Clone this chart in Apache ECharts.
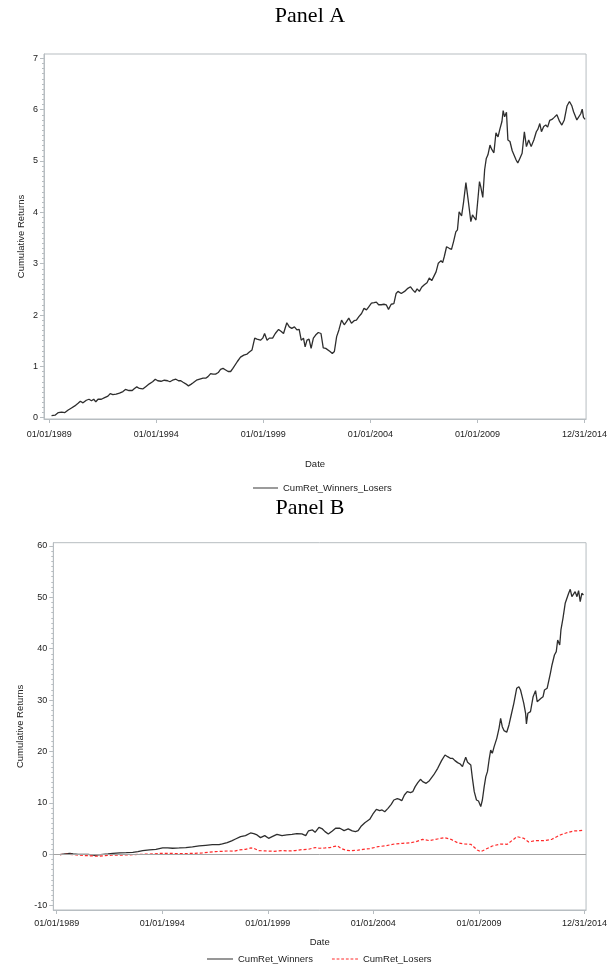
<!DOCTYPE html>
<html><head><meta charset="utf-8">
<script src="https://cdn.jsdelivr.net/npm/echarts@6/dist/echarts.min.js"></script>
<style>html,body{margin:0;padding:0;background:#fff}#c{width:610px;height:969px}</style>
</head><body><div id="c"></div>
<script>
// ---- tick labels (evenly spaced along the date axis) ----
const xTickPos = [1989, 1994.2, 1999.4, 2004.6, 2009.8, 2015];
const xTickLabels = ['01/01/1989','01/01/1994','01/01/1999','01/01/2004','01/01/2009','12/31/2014'];
const yTicksA = [0,1,2,3,4,5,6,7];
const yTicksB = [-10,0,10,20,30,40,50,60];

// ---- Panel A: CumRet_Winners_Losers ----
const datesA = [1989.11,1989.28,1989.44,1989.60,1989.76,1989.92,1990.08,1990.24,1990.40,1990.51,1990.64,1990.80,1990.93,1991.05,1991.16,1991.26,1991.37,1991.53,1991.69,1991.85,1991.96,1992.09,1992.25,1992.41,1992.58,1992.70,1992.87,1993.03,1993.14,1993.25,1993.38,1993.54,1993.70,1993.86,1994.02,1994.15,1994.27,1994.43,1994.59,1994.75,1994.86,1994.99,1995.15,1995.28,1995.39,1995.50,1995.63,1995.76,1995.88,1995.99,1996.15,1996.31,1996.47,1996.60,1996.71,1996.84,1996.95,1997.08,1997.21,1997.32,1997.44,1997.57,1997.69,1997.81,1997.92,1998.13,1998.29,1998.45,1998.61,1998.72,1998.85,1998.98,1999.09,1999.26,1999.37,1999.46,1999.58,1999.69,1999.85,1999.98,2000.14,2000.27,2000.38,2000.54,2000.66,2000.78,2000.91,2001.03,2001.14,2001.24,2001.35,2001.43,2001.52,2001.62,2001.72,2001.83,2001.94,2002.07,2002.20,2002.31,2002.43,2002.52,2002.64,2002.75,2002.85,2002.96,2003.07,2003.20,2003.33,2003.44,2003.55,2003.68,2003.81,2003.92,2004.04,2004.17,2004.29,2004.41,2004.52,2004.65,2004.78,2004.89,2005.00,2005.13,2005.26,2005.37,2005.48,2005.61,2005.74,2005.85,2005.94,2006.10,2006.26,2006.42,2006.55,2006.66,2006.77,2006.87,2006.98,2007.09,2007.22,2007.35,2007.46,2007.58,2007.67,2007.79,2007.90,2008.03,2008.11,2008.19,2008.30,2008.43,2008.54,2008.64,2008.75,2008.83,2008.91,2009.03,2009.12,2009.24,2009.35,2009.48,2009.56,2009.64,2009.73,2009.83,2009.90,2009.96,2010.06,2010.15,2010.23,2010.31,2010.41,2010.49,2010.60,2010.70,2010.80,2010.89,2010.99,2011.05,2011.12,2011.21,2011.28,2011.38,2011.49,2011.57,2011.68,2011.76,2011.86,2011.97,2012.08,2012.18,2012.29,2012.41,2012.54,2012.66,2012.74,2012.83,2012.91,2013.02,2013.12,2013.21,2013.31,2013.42,2013.53,2013.66,2013.79,2013.90,2014.02,2014.15,2014.27,2014.39,2014.47,2014.55,2014.63,2014.72,2014.82,2014.89,2014.95,2015.03];
const cumRetWinnersLosers = [0.04,0.05,0.10,0.11,0.10,0.15,0.19,0.23,0.28,0.32,0.29,0.34,0.36,0.33,0.36,0.31,0.36,0.36,0.39,0.42,0.47,0.45,0.46,0.48,0.51,0.55,0.53,0.53,0.57,0.60,0.57,0.56,0.61,0.66,0.70,0.75,0.72,0.71,0.73,0.72,0.70,0.73,0.75,0.72,0.72,0.69,0.66,0.62,0.65,0.68,0.73,0.75,0.77,0.77,0.80,0.86,0.85,0.85,0.88,0.94,0.96,0.93,0.90,0.90,0.96,1.09,1.18,1.22,1.24,1.28,1.32,1.55,1.53,1.51,1.55,1.64,1.51,1.55,1.55,1.64,1.72,1.68,1.64,1.85,1.77,1.74,1.77,1.71,1.72,1.51,1.55,1.38,1.51,1.53,1.35,1.55,1.61,1.66,1.64,1.36,1.35,1.36,1.29,1.25,1.29,1.58,1.71,1.90,1.81,1.87,1.94,1.84,1.89,1.90,1.97,2.03,2.13,2.10,2.16,2.23,2.24,2.25,2.20,2.20,2.21,2.20,2.11,2.21,2.22,2.42,2.46,2.42,2.46,2.52,2.55,2.49,2.44,2.51,2.46,2.54,2.59,2.63,2.72,2.67,2.68,2.84,3.01,3.06,3.02,3.14,3.33,3.30,3.28,3.43,3.62,3.66,4.01,3.93,4.18,4.58,4.24,3.82,3.95,3.90,3.85,4.29,4.60,4.50,4.29,4.83,5.05,5.12,5.31,5.23,5.16,5.55,5.47,5.62,5.77,5.98,5.86,5.95,5.41,5.38,5.20,5.18,5.02,4.96,5.05,5.15,5.57,5.28,5.41,5.28,5.41,5.57,5.62,5.73,5.57,5.67,5.70,5.66,5.79,5.81,5.85,5.90,5.77,5.70,5.80,6.07,6.16,6.07,5.96,5.94,5.80,5.79,5.92,6.01,5.85,5.81];

// ---- Panel B: CumRet_Winners ----
const datesW = [1989.16,1989.41,1989.65,1989.81,1990.06,1990.30,1990.55,1990.71,1990.88,1991.04,1991.28,1991.53,1991.77,1992.10,1992.43,1992.75,1993.00,1993.24,1993.57,1993.89,1994.22,1994.47,1994.71,1995.04,1995.36,1995.69,1996.02,1996.34,1996.67,1997.00,1997.16,1997.40,1997.62,1997.81,1998.06,1998.30,1998.55,1998.71,1998.87,1999.04,1999.25,1999.44,1999.64,1999.85,2000.10,2000.34,2000.59,2000.83,2001.08,2001.27,2001.40,2001.60,2001.73,2001.92,2002.09,2002.22,2002.38,2002.58,2002.74,2002.95,2003.16,2003.36,2003.56,2003.72,2003.85,2004.01,2004.18,2004.42,2004.58,2004.75,2004.91,2005.03,2005.16,2005.32,2005.48,2005.61,2005.78,2005.89,2006.00,2006.13,2006.27,2006.43,2006.54,2006.66,2006.79,2006.92,2007.03,2007.20,2007.36,2007.57,2007.77,2007.96,2008.13,2008.26,2008.39,2008.50,2008.62,2008.75,2008.88,2008.99,2009.07,2009.15,2009.24,2009.40,2009.48,2009.57,2009.68,2009.78,2009.89,2009.97,2010.06,2010.14,2010.22,2010.30,2010.38,2010.46,2010.55,2010.68,2010.79,2010.87,2010.95,2011.04,2011.17,2011.28,2011.39,2011.52,2011.66,2011.77,2011.85,2011.93,2012.01,2012.10,2012.14,2012.21,2012.34,2012.47,2012.59,2012.67,2012.75,2012.86,2012.96,2013.03,2013.16,2013.24,2013.32,2013.40,2013.52,2013.61,2013.68,2013.78,2013.84,2013.94,2014.05,2014.14,2014.22,2014.30,2014.38,2014.46,2014.54,2014.63,2014.71,2014.79,2014.87,2014.95];
const cumRetWinners = [-0.06,0.07,0.19,0.07,0.00,0.00,0.00,-0.13,-0.19,-0.13,0.00,0.07,0.19,0.26,0.32,0.39,0.52,0.71,0.84,0.97,1.23,1.23,1.17,1.23,1.30,1.43,1.62,1.75,1.88,1.88,2.01,2.27,2.60,2.98,3.44,3.63,4.15,4.02,3.76,3.24,3.63,3.11,3.50,3.89,3.63,3.76,3.89,4.02,3.96,3.63,4.54,4.74,4.28,5.25,4.93,4.41,3.96,4.54,5.06,5.06,4.61,4.93,4.54,4.41,4.60,5.51,6.15,6.80,7.84,8.75,8.49,8.62,8.29,8.94,9.72,10.56,10.82,10.69,10.43,11.54,12.18,11.99,12.18,13.16,13.94,14.59,14.13,13.81,14.33,15.43,16.73,18.22,19.32,18.99,18.67,18.67,18.22,17.83,17.57,17.05,18.02,18.87,17.90,17.37,14.78,12.19,10.56,10.37,9.27,10.56,13.16,15.10,16.08,18.35,20.29,19.64,20.94,22.56,24.51,26.45,24.83,24.05,23.73,25.16,27.10,29.37,32.29,32.61,31.96,30.67,29.37,27.43,25.35,27.43,27.75,30.67,31.84,29.69,29.37,30.34,30.67,31.96,32.29,32.61,35.21,36.83,38.77,39.42,41.69,40.72,43.64,45.91,48.83,49.02,50.77,51.55,50.12,49.80,51.10,50.12,51.29,49.15,50.77,50.45];

// ---- Panel B: CumRet_Losers ----
const datesL = [1989.16,1989.49,1989.81,1990.14,1990.47,1990.79,1991.04,1991.36,1991.69,1992.02,1992.43,1992.83,1993.24,1993.73,1994.14,1994.55,1994.96,1995.36,1995.77,1996.18,1996.51,1996.83,1997.16,1997.48,1997.73,1997.97,1998.30,1998.55,1998.71,1998.95,1999.28,1999.69,2000.10,2000.42,2000.75,2001.08,2001.40,2001.73,2001.97,2002.22,2002.46,2002.63,2002.84,2003.03,2003.28,2003.52,2003.85,2004.09,2004.42,2004.83,2005.23,2005.64,2006.05,2006.46,2006.70,2007.03,2007.36,2007.76,2008.09,2008.42,2008.74,2009.07,2009.40,2009.72,2009.89,2010.13,2010.46,2010.87,2011.19,2011.68,2012.01,2012.25,2012.58,2012.99,2013.39,2013.80,2014.13,2014.46,2014.78,2014.98];
const cumRetLosers = [-0.06,0.00,-0.06,-0.19,-0.26,-0.32,-0.39,-0.26,-0.19,-0.19,-0.13,-0.06,0.00,0.06,0.19,0.19,0.13,0.13,0.19,0.26,0.39,0.52,0.58,0.65,0.58,0.84,0.97,1.23,1.17,0.71,0.65,0.58,0.71,0.65,0.71,0.91,0.97,1.30,1.17,1.23,1.30,1.49,1.62,1.10,0.75,0.70,0.80,0.95,1.10,1.48,1.68,2.00,2.13,2.26,2.46,2.91,2.65,2.98,3.24,2.91,2.26,2.00,1.94,0.84,0.51,0.97,1.61,2.00,1.94,3.43,3.11,2.39,2.65,2.65,2.91,3.75,4.20,4.53,4.60,4.73];

const pairs = (xs, ys) => xs.map((x, i) => [x, ys[i]]);
const SANS = "'Liberation Sans', Arial, sans-serif";
const FRAME = '#b7bdc1';
const TXT = '#222';
const LINE_ICON = 'path://M0 0H26V1H0Z';
const DASH_ICON = 'path://M0 0H3V1H0Z M5 0H8V1H5Z M10 0H13V1H10Z M15 0H18V1H15Z M20 0H23V1H20Z M25 0H28V1H25Z';
const minorA = []; for (let v = 0; v <= 7.0001; v += 0.1) minorA.push(+v.toFixed(2));
const minorB = []; for (let v = -10; v <= 60.0001; v += 1) minorB.push(v);

function xAx(grid, min, max, gap, margin) {
  return {
    type: 'value', gridIndex: grid, min: min, max: max,
    name: 'Date', nameLocation: 'middle', nameGap: gap,
    nameTextStyle: { fontFamily: SANS, fontSize: 9.5, color: TXT },
    axisLine: { show: true, onZero: false, lineStyle: { color: FRAME, width: 1 } },
    axisTick: { show: true, customValues: xTickPos, length: 4, lineStyle: { color: FRAME } },
    axisLabel: {
      customValues: xTickPos, margin: margin, fontFamily: SANS, fontSize: 9, color: TXT,
      formatter: v => { let k = 0; xTickPos.forEach((p, i) => { if (Math.abs(p - v) < Math.abs(xTickPos[k] - v)) k = i; }); return xTickLabels[k]; }
    },
    splitLine: { show: false }
  };
}
function yAx(grid, min, max, ticks, gap) {
  return {
    type: 'value', gridIndex: grid, min: min, max: max, position: 'left',
    name: 'Cumulative Returns', nameLocation: 'middle', nameGap: gap, nameRotate: 90, nameMoveOverlap: false,
    nameTextStyle: { fontFamily: SANS, fontSize: 9.5, color: TXT },
    axisLine: { show: true, onZero: false, lineStyle: { color: FRAME, width: 1 } },
    axisTick: { show: true, customValues: ticks, length: 4, lineStyle: { color: FRAME } },
    axisLabel: { customValues: ticks, margin: 6, fontFamily: SANS, fontSize: 9, color: TXT, formatter: v => String(Math.round(v)) },
    splitLine: { show: false }
  };
}
function yMinor(grid, min, max, ticks) {
  return {
    type: 'value', gridIndex: grid, min: min, max: max, position: 'left',
    axisLine: { show: false },
    axisTick: { show: true, customValues: ticks, length: 2, lineStyle: { color: FRAME } },
    axisLabel: { show: false }, splitLine: { show: false }
  };
}

const chart = echarts.init(document.getElementById('c'), null, { renderer: 'canvas' });
chart.setOption({
  animation: false,
  backgroundColor: '#fff',
  graphic: [
    { type: 'text', x: 310, y: 16, style: { text: 'Panel A', textAlign: 'center', textVerticalAlign: 'middle', font: "22px 'Liberation Serif', serif", fill: '#000' } },
    { type: 'text', x: 310, y: 508, style: { text: 'Panel B', textAlign: 'center', textVerticalAlign: 'middle', font: "22px 'Liberation Serif', serif", fill: '#000' } }
  ],
  grid: [
    { left: 44, top: 54, width: 545.3, height: 365, show: true, borderColor: FRAME, borderWidth: 1, backgroundColor: 'transparent' },
    { left: 53.3, top: 542.7, width: 536, height: 367.3, show: true, borderColor: FRAME, borderWidth: 1, backgroundColor: 'transparent' }
  ],
  xAxis: [ xAx(0, 1988.744, 2015.077, 40, 11), xAx(1, 1988.834, 2015.078, 27, 9) ],
  yAxis: [
    yAx(0, -0.025, 7.084, yTicksA, 17.5),
    yMinor(0, -0.025, 7.084, minorA),
    yAx(1, -10.84, 60.62, yTicksB, 28),
    yMinor(1, -10.84, 60.62, minorB)
  ],
  legend: [
    { data: [{ name: 'CumRet_Winners_Losers', icon: LINE_ICON }], left: 253, top: 483, padding: 0,
      itemWidth: 25, itemHeight: 1.4, itemGap: 19,
      textStyle: { fontFamily: SANS, fontSize: 9.5, color: TXT } },
    { data: [{ name: 'CumRet_Winners', icon: LINE_ICON }, { name: 'CumRet_Losers', icon: DASH_ICON }], left: 207, top: 954, padding: 0,
      itemWidth: 26, itemHeight: 1.4, itemGap: 19,
      textStyle: { fontFamily: SANS, fontSize: 9.5, color: TXT } }
  ],
  series: [
    { name: 'CumRet_Winners_Losers', type: 'line', xAxisIndex: 0, yAxisIndex: 0, data: pairs(datesA, cumRetWinnersLosers),
      showSymbol: false, symbol: 'none', lineStyle: { color: '#2e2e2e', width: 1.3 }, itemStyle: { color: '#2e2e2e' } },
    { name: 'CumRet_Winners', type: 'line', xAxisIndex: 1, yAxisIndex: 2, data: pairs(datesW, cumRetWinners),
      showSymbol: false, symbol: 'none', lineStyle: { color: '#2e2e2e', width: 1.3 }, itemStyle: { color: '#2e2e2e' },
      markLine: { silent: true, symbol: ['none', 'none'], label: { show: false }, lineStyle: { color: '#a3a3a3', type: 'solid', width: 1 }, data: [{ yAxis: 0 }] } },
    { name: 'CumRet_Losers', type: 'line', xAxisIndex: 1, yAxisIndex: 2, data: pairs(datesL, cumRetLosers),
      showSymbol: false, symbol: 'none', lineStyle: { color: '#ff2a2a', width: 1.2, type: [3, 2] }, itemStyle: { color: '#ff2a2a' } }
  ]
});
</script>
</body></html>
